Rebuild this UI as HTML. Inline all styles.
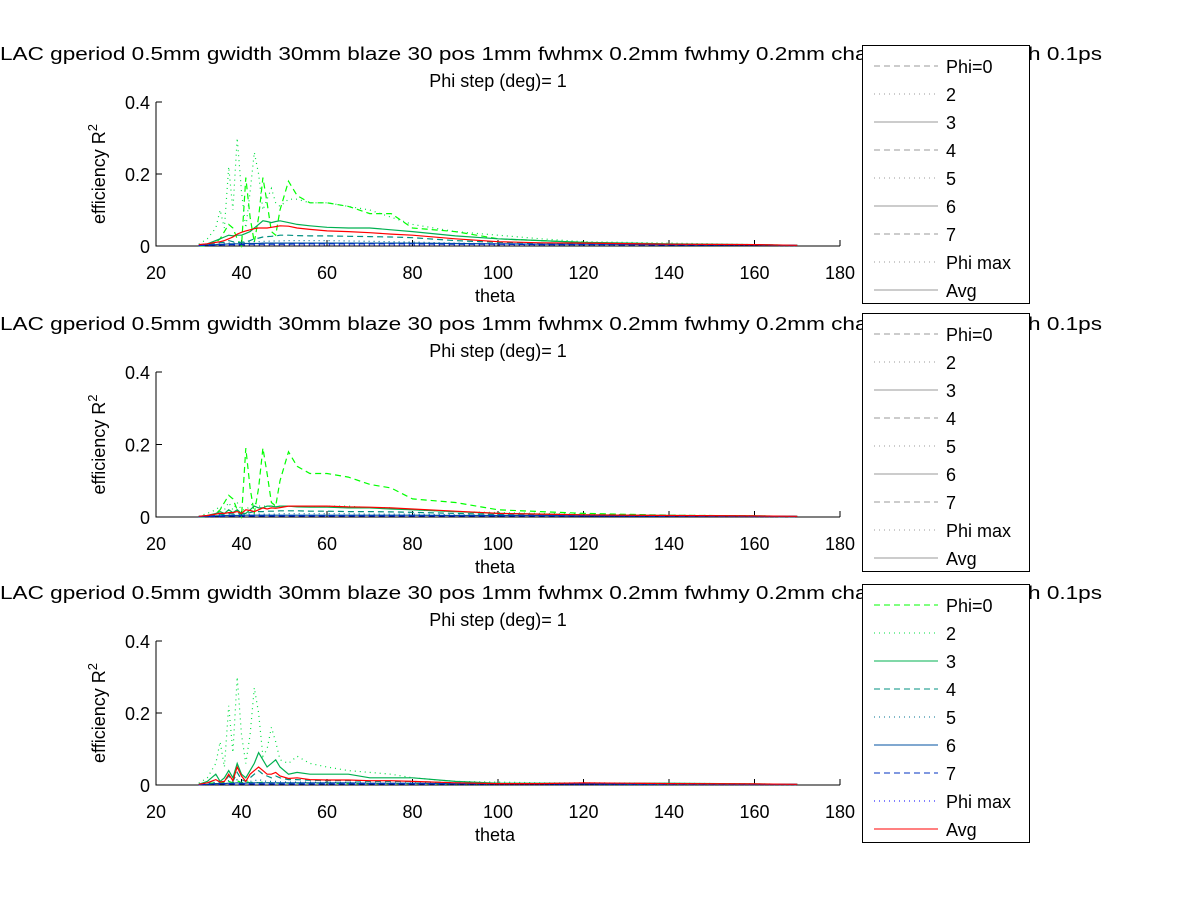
<!DOCTYPE html>
<html><head><meta charset="utf-8"><style>
body{margin:0;background:#fff}
svg text{font-family:"Liberation Sans",Arial,sans-serif;fill:#000}
</style></head><body>
<svg id="fig" width="1200" height="901" xmlns="http://www.w3.org/2000/svg"></svg>
<script>
const thetaGrid=[30,32,34,35,36,37,38,39,40,41,42,43,44,45,46,47,48,49,51,53,56,60,65,70,75,80,90,100,110,120,140,160,170];
const seriesNames=["Phi=0","2","3","4","5","6","7","Phi max","Avg"];
const xTicks=[20,40,60,80,100,120,140,160,180];
const yTicks=[0,0.2,0.4];
// plot 1
const p1phi0=[0,0,0.01,0.02,0.04,0.06,0.05,0.02,0,0.19,0.08,0.01,0.08,0.19,0.12,0.04,0.03,0.1,0.18,0.14,0.12,0.12,0.11,0.09,0.09,0.05,0.04,0.02,0.015,0.01,0.005,0.003,0.002];
const p1s2=[0.005,0.02,0.05,0.1,0.05,0.22,0.1,0.3,0.15,0.05,0.15,0.26,0.2,0.1,0.13,0.16,0.12,0.11,0.13,0.13,0.12,0.12,0.11,0.1,0.08,0.06,0.04,0.03,0.02,0.012,0.008,0.004,0.002];
const p1s3=[0.003,0.006,0.015,0.02,0.025,0.03,0.028,0.03,0.03,0.035,0.04,0.05,0.06,0.07,0.068,0.065,0.068,0.07,0.065,0.06,0.056,0.052,0.05,0.05,0.045,0.04,0.028,0.02,0.015,0.01,0.006,0.004,0.002];
const p1s4=[0.002,0.004,0.008,0.01,0.01,0.015,0.012,0.01,0.01,0.012,0.015,0.02,0.022,0.025,0.026,0.027,0.028,0.03,0.03,0.029,0.028,0.028,0.027,0.026,0.025,0.023,0.015,0.01,0.008,0.006,0.004,0.003,0.002];
const p1s5=[0.001,0.003,0.005,0.006,0.007,0.008,0.008,0.009,0.01,0.01,0.011,0.012,0.012,0.013,0.013,0.014,0.014,0.014,0.015,0.015,0.015,0.015,0.014,0.013,0.012,0.011,0.008,0.006,0.005,0.004,0.003,0.002,0.001];
const p1s6=[0.002,0.003,0.004,0.005,0.005,0.006,0.006,0.006,0.006,0.007,0.007,0.007,0.007,0.008,0.008,0.008,0.008,0.008,0.008,0.008,0.008,0.008,0.008,0.008,0.008,0.008,0.007,0.006,0.005,0.005,0.004,0.003,0.002];
const p1s7=[0.001,0.002,0.003,0.003,0.004,0.004,0.004,0.004,0.004,0.004,0.005,0.005,0.005,0.005,0.005,0.005,0.005,0.005,0.005,0.006,0.006,0.006,0.006,0.006,0.006,0.006,0.005,0.005,0.004,0.004,0.003,0.003,0.002];
const p1max=[0.001,0.001,0.002,0.002,0.002,0.002,0.003,0.003,0.003,0.003,0.003,0.003,0.003,0.003,0.003,0.003,0.003,0.003,0.003,0.003,0.003,0.003,0.003,0.003,0.003,0.003,0.003,0.003,0.003,0.003,0.002,0.002,0.001];
const p1avg=[0.004,0.006,0.01,0.012,0.015,0.02,0.025,0.033,0.038,0.042,0.045,0.048,0.05,0.05,0.05,0.052,0.054,0.056,0.055,0.05,0.046,0.042,0.04,0.037,0.033,0.03,0.02,0.012,0.009,0.008,0.005,0.004,0.002];
// plot 2
const p2phi0=[0,0,0.01,0.02,0.04,0.06,0.05,0.02,0,0.19,0.08,0.01,0.08,0.19,0.12,0.04,0.03,0.1,0.18,0.14,0.12,0.12,0.11,0.09,0.08,0.05,0.04,0.02,0.015,0.01,0.005,0.003,0.002];
const p2s2=[0.002,0.01,0.02,0.03,0.02,0.04,0.02,0.04,0.02,0.02,0.03,0.04,0.03,0.03,0.03,0.03,0.03,0.03,0.03,0.03,0.03,0.03,0.03,0.025,0.025,0.02,0.015,0.012,0.01,0.008,0.005,0.003,0.002];
const p2s3=[0.002,0.004,0.01,0.015,0.01,0.02,0.012,0.02,0.01,0.01,0.02,0.03,0.025,0.025,0.03,0.03,0.028,0.03,0.03,0.028,0.027,0.027,0.025,0.025,0.022,0.02,0.015,0.01,0.008,0.006,0.004,0.003,0.002];
const p2s4=[0.001,0.003,0.006,0.008,0.006,0.01,0.008,0.01,0.008,0.01,0.012,0.015,0.015,0.015,0.016,0.016,0.016,0.017,0.017,0.017,0.016,0.016,0.015,0.015,0.014,0.013,0.01,0.007,0.005,0.004,0.003,0.002,0.001];
const p2s5=[0.001,0.002,0.004,0.005,0.005,0.006,0.006,0.006,0.006,0.007,0.007,0.008,0.008,0.008,0.008,0.008,0.008,0.009,0.009,0.009,0.009,0.009,0.009,0.008,0.008,0.008,0.006,0.005,0.004,0.003,0.002,0.002,0.001];
const p2s6=[0.001,0.002,0.003,0.003,0.004,0.004,0.004,0.004,0.004,0.005,0.005,0.005,0.005,0.005,0.005,0.005,0.005,0.005,0.005,0.005,0.005,0.005,0.005,0.005,0.005,0.005,0.004,0.004,0.004,0.003,0.003,0.002,0.002];
const p2s7=[0.001,0.001,0.002,0.002,0.002,0.003,0.003,0.003,0.003,0.003,0.003,0.003,0.003,0.003,0.003,0.003,0.003,0.003,0.003,0.003,0.003,0.003,0.003,0.003,0.003,0.003,0.003,0.003,0.003,0.003,0.002,0.002,0.002];
const p2max=[0.001,0.001,0.001,0.001,0.002,0.002,0.002,0.002,0.002,0.002,0.002,0.002,0.002,0.002,0.002,0.002,0.002,0.002,0.002,0.002,0.002,0.002,0.002,0.002,0.002,0.002,0.002,0.002,0.002,0.002,0.002,0.001,0.001];
const p2avg=[0.002,0.004,0.008,0.01,0.01,0.012,0.012,0.015,0.01,0.02,0.018,0.015,0.02,0.025,0.022,0.025,0.024,0.026,0.03,0.03,0.03,0.03,0.028,0.027,0.025,0.022,0.016,0.01,0.008,0.006,0.004,0.003,0.002];
// plot 3
const p3phi0=[0.002,0.004,0.006,0.008,0.006,0.01,0.006,0.012,0.006,0.01,0.006,0.008,0.006,0.008,0.006,0.006,0.005,0.005,0.005,0.005,0.005,0.005,0.004,0.004,0.004,0.004,0.003,0.003,0.003,0.003,0.002,0.002,0.002];
const p3s2=[0.005,0.02,0.06,0.12,0.05,0.22,0.09,0.3,0.14,0.06,0.14,0.27,0.2,0.08,0.1,0.16,0.12,0.07,0.06,0.08,0.06,0.05,0.04,0.035,0.03,0.02,0.01,0.008,0.006,0.006,0.005,0.003,0.002];
const p3s3=[0.002,0.01,0.03,0.01,0.02,0.04,0.02,0.06,0.03,0.02,0.04,0.06,0.09,0.07,0.05,0.06,0.07,0.05,0.03,0.035,0.03,0.03,0.03,0.02,0.02,0.02,0.01,0.005,0.005,0.005,0.005,0.003,0.002];
const p3s4=[0.001,0.005,0.015,0.008,0.01,0.025,0.01,0.035,0.015,0.01,0.02,0.03,0.04,0.03,0.025,0.02,0.025,0.02,0.015,0.015,0.013,0.012,0.012,0.01,0.01,0.01,0.006,0.004,0.004,0.004,0.003,0.002,0.002];
const p3s5=[0.001,0.003,0.008,0.005,0.006,0.012,0.006,0.015,0.008,0.006,0.01,0.012,0.015,0.012,0.01,0.01,0.01,0.009,0.008,0.008,0.008,0.007,0.007,0.006,0.006,0.006,0.004,0.003,0.003,0.003,0.002,0.002,0.001];
const p3s6=[0.001,0.002,0.004,0.004,0.004,0.005,0.005,0.006,0.005,0.005,0.006,0.006,0.006,0.006,0.006,0.006,0.006,0.006,0.006,0.006,0.006,0.006,0.006,0.005,0.005,0.005,0.004,0.004,0.003,0.003,0.003,0.002,0.002];
const p3s7=[0.001,0.002,0.003,0.003,0.003,0.003,0.003,0.003,0.003,0.003,0.003,0.003,0.003,0.003,0.003,0.003,0.003,0.003,0.003,0.003,0.003,0.003,0.003,0.003,0.003,0.003,0.003,0.003,0.003,0.003,0.002,0.002,0.002];
const p3max=[0.001,0.001,0.001,0.001,0.001,0.001,0.001,0.001,0.001,0.001,0.001,0.001,0.001,0.001,0.001,0.001,0.001,0.001,0.001,0.001,0.001,0.001,0.001,0.001,0.001,0.001,0.001,0.001,0.001,0.001,0.001,0.001,0.001];
const p3avg=[0.002,0.006,0.015,0.008,0.01,0.03,0.012,0.05,0.025,0.01,0.03,0.04,0.05,0.04,0.03,0.03,0.035,0.025,0.018,0.02,0.015,0.014,0.014,0.012,0.012,0.01,0.006,0.004,0.004,0.006,0.004,0.003,0.002];

const plotsData=[[p1phi0,p1s2,p1s3,p1s4,p1s5,p1s6,p1s7,p1max,p1avg],[p2phi0,p2s2,p2s3,p2s4,p2s5,p2s6,p2s7,p2max,p2avg],[p3phi0,p3s2,p3s3,p3s4,p3s5,p3s6,p3s7,p3max,p3avg]];
const styles=[{c:"#00ff00",d:"6 4"},{c:"#00e040",d:"1 4"},{c:"#00b050",d:""},{c:"#009080",d:"6 4"},{c:"#007090",d:"1 4"},{c:"#0050a0",d:""},{c:"#0030c0",d:"6 4"},{c:"#0000ff",d:"1 4"},{c:"#ff0000",d:""}];
const NS="http://www.w3.org/2000/svg";
const svg=document.getElementById("fig");
function mk(t,a,p){const e=document.createElementNS(NS,t);for(const k in a)e.setAttribute(k,a[k]);(p||svg).appendChild(e);return e;}
const X0=156,X1=840;
function xs(v){return X0+(v-20)*(X1-X0)/160;}
const panels=[{top:102,bot:246,lt:45},{top:372,bot:517,lt:313},{top:641,bot:785,lt:584}];
panels.forEach((P,pi)=>{
  const g=mk("g",{});
  
  
  const ys=v=>P.bot-(v/0.4)*(P.bot-P.top);
  const t=mk("text",{x:0,y:P.top-42,"font-size":18,textLength:1102,lengthAdjust:"spacingAndGlyphs"},g);
  t.textContent="LAC gperiod 0.5mm gwidth 30mm blaze 30 pos 1mm fwhmx 0.2mm fwhmy 0.2mm charge 200pC length 0.1ps";
  
  
  const t2=mk("text",{x:498,y:P.top-15,"font-size":18,"text-anchor":"middle"},g);
  t2.textContent="Phi step (deg)= 1";
  
  
  const ax=mk("path",{d:`M${X0},${P.top}V${P.bot}H${X1}`,stroke:"#000",fill:"none","stroke-width":1},g);
  
  
  xTicks.forEach(v=>{
    mk("line",{x1:xs(v),x2:xs(v),y1:P.bot,y2:P.bot-6,stroke:"#000"},g);
    const tl=mk("text",{x:xs(v),y:P.bot+33,"font-size":18,"text-anchor":"middle"},g);
    tl.textContent=v;
    
    
  });
  yTicks.forEach(v=>{
    mk("line",{x1:X0,x2:X0+6,y1:ys(v),y2:ys(v),stroke:"#000"},g);
    const tl=mk("text",{x:X0-6,y:ys(v)+7,"font-size":18,"text-anchor":"end"},g);
    tl.textContent=v;
    
    
  });
  const xl=mk("text",{x:495,y:P.bot+56,"font-size":18,"text-anchor":"middle"},g);
  xl.textContent="theta";
  
  
  const cy=(P.top+P.bot)/2;
  const yl=mk("text",{x:0,y:0,"font-size":18,"text-anchor":"middle",transform:`translate(105,${cy}) rotate(-90)`},g);
  yl.innerHTML='efficiency R<tspan dy="-8" font-size="13">2</tspan>';
  
  
  plotsData[pi].forEach((arr,si)=>{
    const d=arr.map((v,i)=>(i?"L":"M")+xs(thetaGrid[i]).toFixed(1)+","+ys(v).toFixed(1)).join("");
    const pth=mk("path",{d:d,fill:"none",stroke:styles[si].c,"stroke-width":1.2,"stroke-dasharray":styles[si].d},g);
    
    
  });
  const lg=mk("g",{},g);
  
  
  const L=P.lt;
  mk("rect",{x:862.5,y:L+0.5,width:167,height:258,fill:"#fff",stroke:"#000"},lg);
  seriesNames.forEach((n,si)=>{
    const y=L+21+si*28;
    mk("line",{x1:874,x2:938,y1:y,y2:y,stroke:pi===2?styles[si].c:"#999","stroke-width":1,"stroke-dasharray":styles[si].d},lg);
    const lt=mk("text",{x:946,y:y+7,"font-size":18},lg);
    lt.textContent=n;
    
    
  });
});
</script>
</body></html>
